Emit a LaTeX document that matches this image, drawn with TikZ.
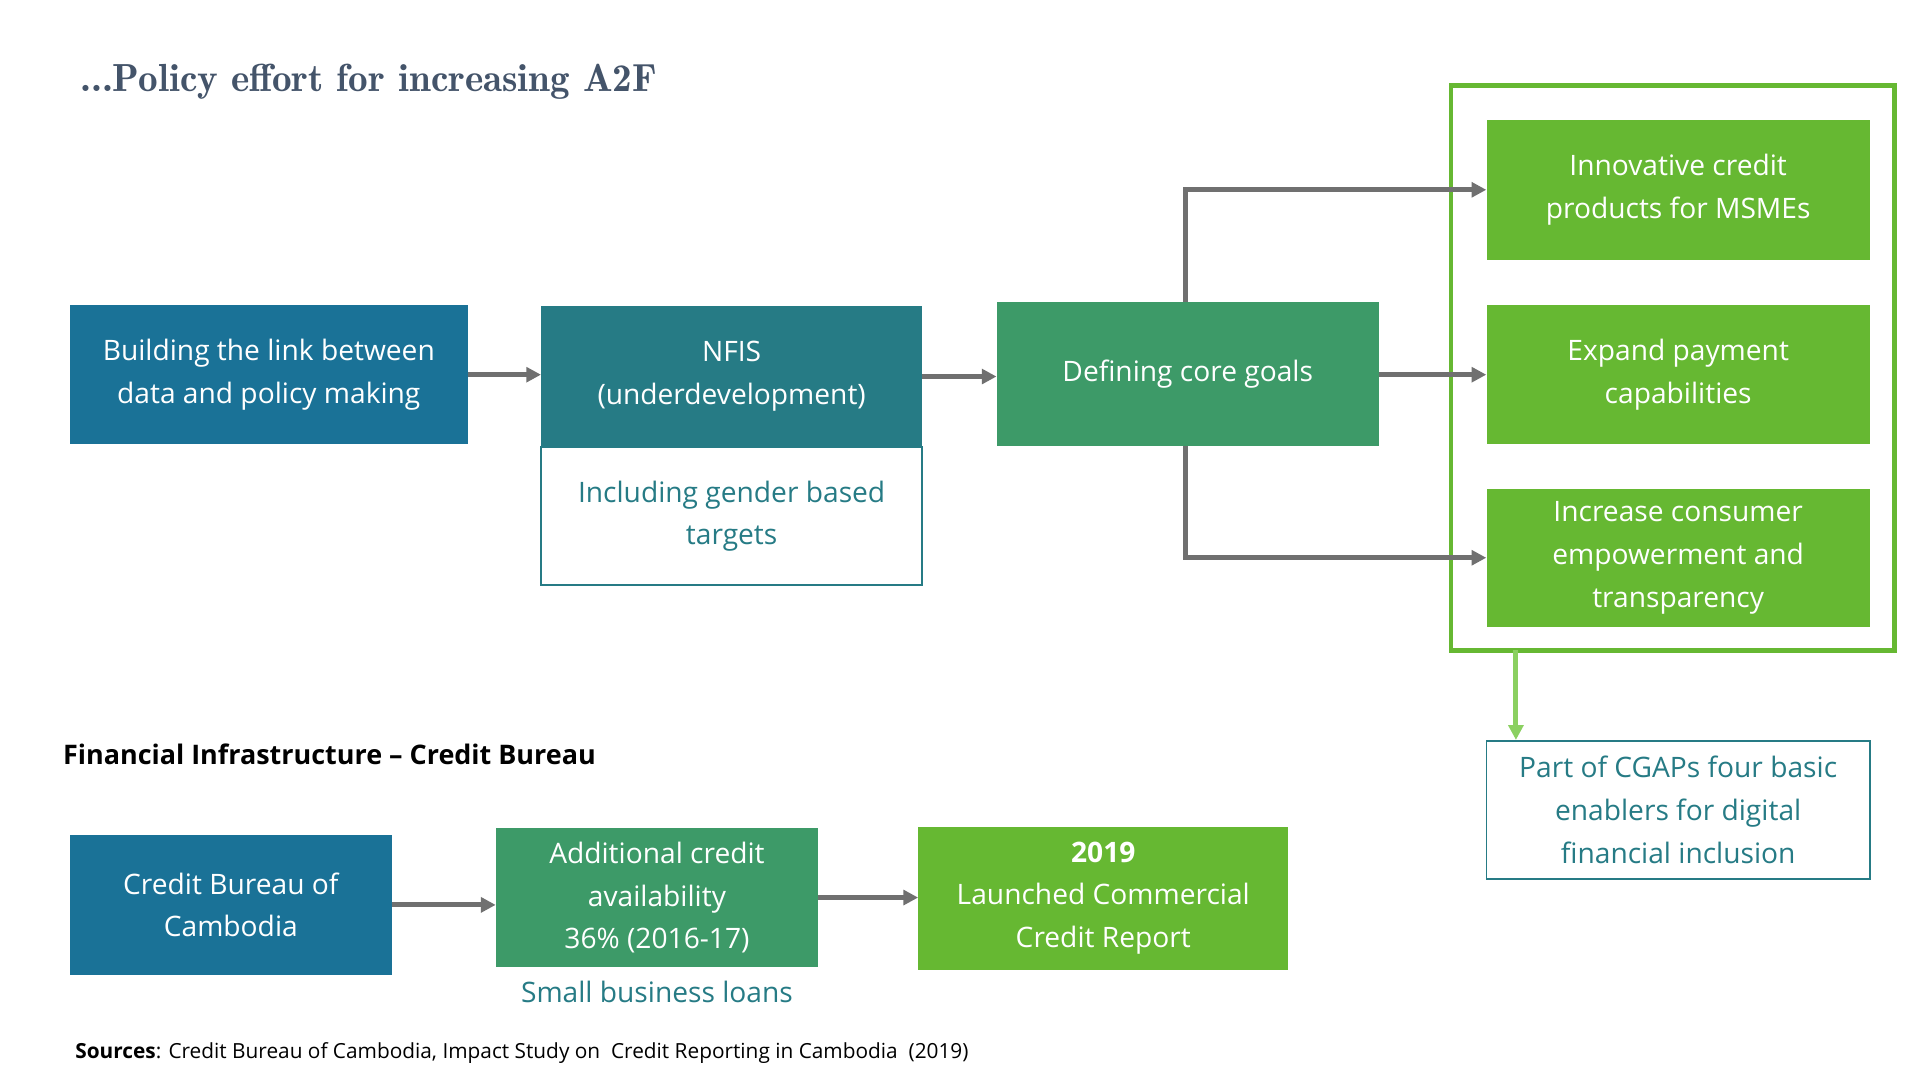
\documentclass[tikz,border=0pt]{standalone}
\usepackage{fontspec}
\setmainfont{Open Sans}
\usetikzlibrary{arrows.meta}
\definecolor{cblue}{HTML}{1A7297}
\definecolor{cteal}{HTML}{267B85}
\definecolor{cgreen}{HTML}{3D9A68}
\definecolor{clime}{HTML}{66B832}
\definecolor{cgray}{HTML}{707070}
\definecolor{clg}{HTML}{8BD061}
\definecolor{ctitle}{HTML}{44546A}
\begin{document}
\begin{tikzpicture}[x=1pt,y=-1pt,
 box/.style={inner sep=0pt,align=center,text=white,font=\fontsize{23}{35}\selectfont},
 arr/.style={draw=cgray,line width=4,-{Triangle[length=12,width=12]}}]
\useasboundingbox (0,0) rectangle (1568,882);
\fill[white] (0,0) rectangle (1568,882);
\node[anchor=west,text=ctitle,font=\fontfamily{lmr}\bfseries\fontsize{32}{40}\selectfont] (title) at (62,67) {...Policy effort for increasing A2F};
\draw[clime,line width=4] (1185,70) rectangle (1547,531);
\node[box,fill=cblue,minimum width=325,minimum height=114] (a) at (219.5,306) {Building the link between\\data and policy making};
\node[box,fill=cteal,minimum width=311,minimum height=115] (b) at (597.5,307.5) {NFIS\\(underdevelopment)};
\node[box,fill=white,draw=cteal,line width=1.5,text=cteal,minimum width=311,minimum height=113] (b2) at (597.5,421.5) {Including gender based\\targets};
\node[box,fill=cgreen,minimum width=312,minimum height=117] (c) at (970,305.5) {Defining core goals};
\node[box,fill=clime,minimum width=313,minimum height=114] (g1) at (1370.5,155) {Innovative credit\\products for MSMEs};
\node[box,fill=clime,minimum width=313,minimum height=114] (g2) at (1370.5,306) {Expand payment\\capabilities};
\node[box,fill=clime,minimum width=313,minimum height=113] (g3) at (1370.5,455.5) {Increase consumer\\empowerment and\\transparency};
\node[box,fill=white,draw=cteal,line width=1.5,text=cteal,minimum width=313,minimum height=113] (cg) at (1370.5,661.5) {Part of CGAPs four basic\\enablers for digital\\financial inclusion};
\coordinate (fr) at (1238,531);
\draw[arr] (a.east) -- (b.west|-a.east);
\draw[arr] (b.east) -- (c.west|-b.east);
\draw[arr] (c.east|-g2.west) -- (g2.west);
\draw[arr] (968,247) |- (g1.west);
\draw[arr] (968,364) |- (g3.west);
\draw[draw=clg,line width=4,-{Triangle[length=12,width=12]}] (fr) -- (cg.north-|fr);
\node[anchor=west,font=\bfseries\fontsize{22}{30}\selectfont] (fi) at (48,616) {Financial Infrastructure – Credit Bureau};
\node[box,fill=cblue,minimum width=263,minimum height=114] (cb) at (188.5,739) {Credit Bureau of\\Cambodia};
\node[box,fill=cgreen,minimum width=263,minimum height=114] (ac) at (536.5,733) {Additional credit\\availability\\36\% (2016-17)};
\node[box,fill=clime,minimum width=302,minimum height=117] (y) at (901,733.5) {\textbf{2019}\\Launched Commercial\\Credit Report};
\node[text=cteal,font=\fontsize{23}{30}\selectfont] (sb) at (536.5,810) {Small business loans};
\draw[arr] (cb.east) -- (ac.west|-cb.east);
\draw[arr] (ac.east) -- (y.west|-ac.east);
\node[anchor=west,font=\fontsize{17}{24}\selectfont] (src) at (58,860) {\textbf{Sources}: Credit Bureau of Cambodia, Impact Study on\ \ Credit Reporting in Cambodia\ \ (2019)};
\end{tikzpicture}
\end{document}
